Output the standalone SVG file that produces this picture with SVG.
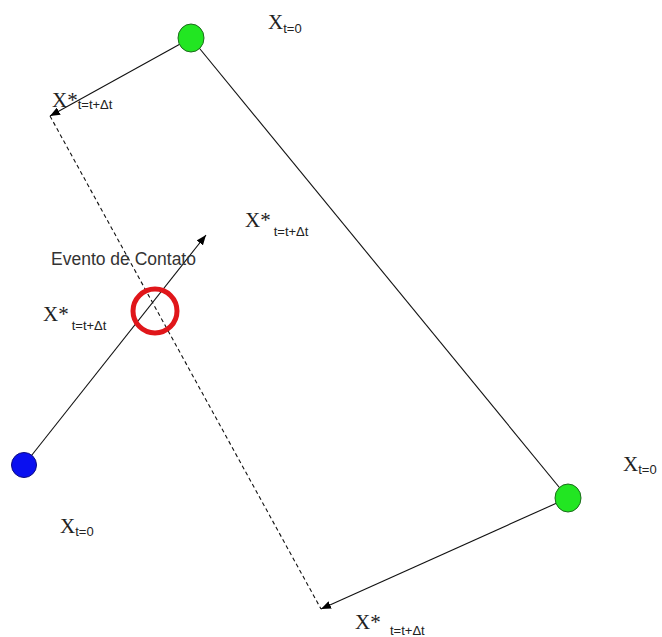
<svg xmlns="http://www.w3.org/2000/svg" width="662" height="637" viewBox="0 0 662 637">
<style>
.x{font-family:"Liberation Serif",serif;font-size:21px;fill:#222}
.s{font-family:"Liberation Sans",Arial,sans-serif;font-size:13px;fill:#222}
.lbl{font-family:"Liberation Sans",Arial,sans-serif;font-size:17.5px;fill:#333}
.ln{stroke:#111;stroke-width:1.1;fill:none}
</style>
<defs>
<marker id="ah" viewBox="0 0 10 8" refX="10" refY="4" markerWidth="10" markerHeight="8" markerUnits="userSpaceOnUse" orient="auto">
<path d="M0,0 L10,4 L0,8 Z" fill="#000"/>
</marker>
</defs>
<rect width="662" height="637" fill="#fff"/>
<g id="connectors">
<line class="ln" x1="191" y1="38" x2="568" y2="498"/>
<line class="ln" x1="191" y1="38" x2="50" y2="116" marker-end="url(#ah)"/>
<line class="ln" x1="568" y1="498" x2="321" y2="609" marker-end="url(#ah)"/>
<line class="ln" x1="50" y1="116" x2="321" y2="609" stroke-dasharray="4,3"/>
<line class="ln" x1="24" y1="465" x2="206" y2="235" marker-end="url(#ah)"/>
</g>
<g id="node-green-top"><ellipse cx="191" cy="38" rx="13" ry="14" fill="#22e622" stroke="#1d6b1d" stroke-width="1"/></g>
<g id="node-green-bottom"><ellipse cx="568" cy="498" rx="13" ry="14" fill="#22e622" stroke="#1d6b1d" stroke-width="1"/></g>
<g id="node-blue"><circle cx="24" cy="465" r="12.5" fill="#0a10f0" stroke="#0a0a80" stroke-width="1"/></g>
<g id="contact-event"><circle cx="155" cy="311" r="22" fill="none" stroke="#e0161a" stroke-width="5"/>
<text class="lbl" x="51" y="265">Evento de Contato</text></g>
<g id="labels">
<text x="268" y="29"><tspan class="x">X</tspan><tspan class="s" dy="4">t=0</tspan></text>
<text x="623" y="471"><tspan class="x">X</tspan><tspan class="s" dy="3">t=0</tspan></text>
<text x="60" y="533"><tspan class="x">X</tspan><tspan class="s" dy="3">t=0</tspan></text>
<text x="52" y="107"><tspan class="x">X*</tspan><tspan class="s" dy="2">t=t+Δt</tspan></text>
<text x="245" y="227"><tspan class="x">X*</tspan><tspan class="s" dx="3" dy="9">t=t+Δt</tspan></text>
<text x="43" y="321"><tspan class="x">X*</tspan><tspan class="s" dx="3" dy="9">t=t+Δt</tspan></text>
<text x="355" y="629"><tspan class="x">X*</tspan><tspan class="s" x="390" y="635">t=t+Δt</tspan></text>
</g>
</svg>
